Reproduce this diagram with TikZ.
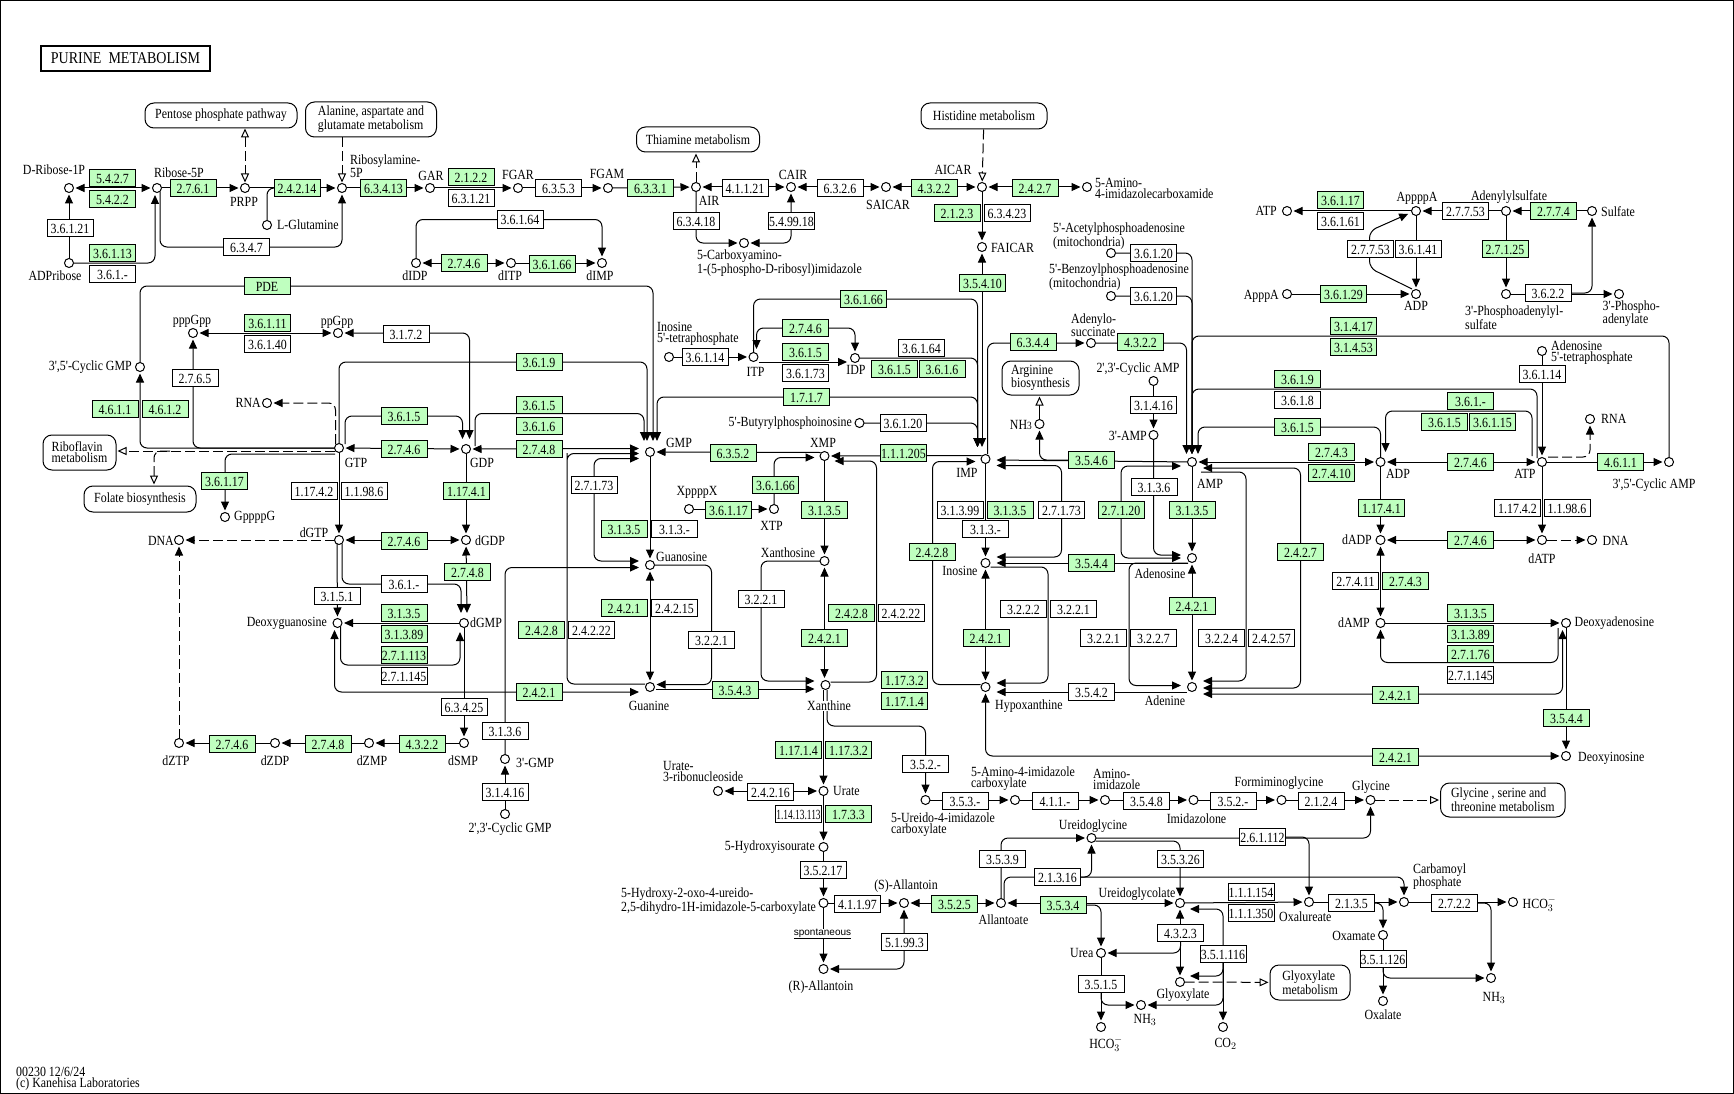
\documentclass[tikz,border=0pt]{standalone}
\usepackage{fontspec}
\setmainfont{Liberation Serif}[Ligatures=TeXOff, FakeStretch=0.85]
\setsansfont{Liberation Sans}
\usetikzlibrary{arrows.meta, calc}
\definecolor{enzgreen}{HTML}{BFFFBF}
\pgfdeclarelayer{lines}
\pgfsetlayers{lines,main}
\tikzset{
    cpd/.style={circle, draw, fill=white, line width=1pt, minimum size=9pt, inner sep=0pt, outer sep=0pt},
    enzw/.style={rectangle, draw, fill=white, line width=1pt, minimum width=46pt, minimum height=17pt, inner sep=0pt, outer sep=0pt, text height=11pt, text depth=0pt, font=\fontsize{14}{14}\selectfont},
    enzg/.style={enzw, fill=enzgreen},
    lbl/.style={inner sep=0pt, align=left, font=\fontsize{14}{11}\selectfont},
    mapbox/.style={rectangle, draw, fill=white, line width=1pt, rounded corners=9pt, inner sep=0pt, align=left, font=\fontsize{14}{11}\selectfont},
    rxn/.style={line width=1pt, rounded corners=7pt},
    fwd/.style={rxn, -{Triangle[length=9pt,width=8pt]}, shorten >=2pt},
    bi/.style={rxn, {Triangle[length=9pt,width=8pt]}-{Triangle[length=9pt,width=8pt]}, shorten >=2pt, shorten <=2pt},
    dsh/.style={dash pattern=on 10pt off 4pt},
    opn/.style={rxn, dsh, -{Triangle[open,fill=white,length=9pt,width=8pt]}, shorten >=1pt},
    dfwd/.style={fwd, dsh}
}
\begin{document}
\begin{tikzpicture}[x=1pt, y=-1pt]
    \useasboundingbox (0,0) rectangle (1734,1094);
    \draw [line width=1pt] (0.5,0.5) rectangle (1733.5,1093.5);

    \node (title) [rectangle, draw, line width=2pt, minimum width=169pt, minimum height=25pt, inner sep=0pt, font=\fontsize{16.5}{16}\selectfont] at (125.5,58.5) {PURINE~~METABOLISM};
    \node (pentose) [mapbox, minimum width=152pt, minimum height=25pt] at (221,115.5) {Pentose phosphate pathway};
    \node (alanine) [mapbox, minimum width=131pt, minimum height=35pt] at (371,119.5) {Alanine, aspartate and\\glutamate metabolism};
    \node (thiamine) [mapbox, minimum width=123pt, minimum height=25pt] at (698,139.5) {Thiamine metabolism};
    \node (histidine) [mapbox, minimum width=126pt, minimum height=26pt] at (984,116) {Histidine metabolism};
    \node (riboflavin) [mapbox, minimum width=73pt, minimum height=35pt] at (79.5,452.5) {Riboflavin\\metabolism};
    \node (folate) [mapbox, minimum width=112pt, minimum height=26pt] at (140,499) {Folate biosynthesis};
    \node (arginine) [mapbox, minimum width=77pt, minimum height=34pt] at (1040.5,378) {Arginine\\biosynthesis};
    \node (glyser) [mapbox, minimum width=124.5pt, minimum height=34pt] at (1502.8,800) {Glycine , serine and\\threonine metabolism};
    \node (glxmet) [mapbox, minimum width=80pt, minimum height=35pt] at (1310,982.5) {Glyoxylate\\metabolism};

    \node (DRib1P) [cpd] at (69,188) {};
    \node (Rib5P) [cpd] at (157,188) {};
    \node (PRPP) [cpd] at (245,188) {};
    \node (Ribam) [cpd] at (342,188) {};
    \node (GAR) [cpd] at (430,188) {};
    \node (FGAR) [cpd] at (518,188) {};
    \node (FGAM) [cpd] at (608,188) {};
    \node (AIR) [cpd] at (696,187) {};
    \node (CAIR) [cpd] at (791,187) {};
    \node (SAICAR) [cpd] at (886,187) {};
    \node (AICAR) [cpd] at (982,187) {};
    \node (AICAm) [cpd] at (1087,187) {};
    \node (LGln) [cpd] at (267,225) {};
    \node (ADPr) [cpd] at (69,263) {};
    \node (CxAIR) [cpd] at (744,243) {};
    \node (dIDP) [cpd] at (416,263) {};
    \node (dITP) [cpd] at (511,263) {};
    \node (dIMP) [cpd] at (602,263) {};
    \node (pppGpp) [cpd] at (193,333) {};
    \node (ppGpp) [cpd] at (338,333) {};
    \node (cGMP) [cpd] at (140,367) {};
    \node (RNAa) [cpd] at (267,403) {};
    \node (GTP) [cpd] at (339,448) {};
    \node (GDP) [cpd] at (466,449) {};
    \node (GMP) [cpd] at (650,452) {};
    \node (GppppG) [cpd] at (225,517) {};
    \node (dGTP) [cpd] at (339,540) {};
    \node (dGDP) [cpd] at (466,540) {};
    \node (DNAa) [cpd] at (179,540) {};
    \node (Dguo) [cpd] at (337.5,623) {};
    \node (dGMP) [cpd] at (464,623) {};
    \node (Guos) [cpd] at (650,565) {};
    \node (Gua) [cpd] at (650,687) {};
    \node (dZTP) [cpd] at (179,743) {};
    \node (dZDP) [cpd] at (275,743) {};
    \node (dZMP) [cpd] at (369,743) {};
    \node (dSMP) [cpd] at (464,743) {};
    \node (tGMP) [cpd] at (505,759) {};
    \node (ccGMP) [cpd] at (505,814) {};
    \node (XppppX) [cpd] at (689,509) {};
    \node (XTP) [cpd] at (774,509) {};
    \node (XMP) [cpd] at (824.5,456) {};
    \node (Xao) [cpd] at (824.5,561) {};
    \node (Xan) [cpd] at (825.5,685) {};
    \node (IMP) [cpd] at (985.5,459) {};
    \node (Ino) [cpd] at (985.5,563) {};
    \node (Hyp) [cpd] at (985.5,687) {};
    \node (AMP) [cpd] at (1192,462) {};
    \node (Ado) [cpd] at (1192,558) {};
    \node (Ade) [cpd] at (1192,687) {};
    \node (NHa) [cpd] at (1039.5,424) {};
    \node (ccAMP) [cpd] at (1153.5,381) {};
    \node (tAMP) [cpd] at (1153.5,435) {};
    \node (Adsucc) [cpd] at (1091,343) {};
    \node (AcPA) [cpd] at (1111,253) {};
    \node (BzPA) [cpd] at (1111,296) {};
    \node (FAICAR) [cpd] at (982,247) {};
    \node (ITet) [cpd] at (669,357) {};
    \node (ITP) [cpd] at (753.5,357) {};
    \node (IDP) [cpd] at (855,358) {};
    \node (BuPI) [cpd] at (859.5,423) {};
    \node (ATPa) [cpd] at (1287,211) {};
    \node (ApppA) [cpd] at (1287,294) {};
    \node (AppppA) [cpd] at (1416,211) {};
    \node (APS) [cpd] at (1506,211) {};
    \node (Sulf) [cpd] at (1592,211) {};
    \node (ADPa) [cpd] at (1416,294) {};
    \node (PAPS) [cpd] at (1506,294) {};
    \node (PAP) [cpd] at (1619,294) {};
    \node (ATet) [cpd] at (1542,351) {};
    \node (RNAb) [cpd] at (1590,419) {};
    \node (ADP) [cpd] at (1380.5,462) {};
    \node (ATP) [cpd] at (1542,462) {};
    \node (cAMP) [cpd] at (1669,462) {};
    \node (dADP) [cpd] at (1380.5,540) {};
    \node (dATP) [cpd] at (1542,540) {};
    \node (DNAb) [cpd] at (1592,540) {};
    \node (dAMP) [cpd] at (1380.5,623) {};
    \node (Dado) [cpd] at (1566,623) {};
    \node (Dino) [cpd] at (1566,756) {};
    \node (Gly) [cpd] at (1370.5,800) {};
    \node (Formgly) [cpd] at (1281.5,800) {};
    \node (Imzn) [cpd] at (1193.5,800) {};
    \node (AICx) [cpd] at (1015,800) {};
    \node (AmIm) [cpd] at (1105,800) {};
    \node (Ureido) [cpd] at (925.5,800) {};
    \node (Ugl) [cpd] at (1091.5,838) {};
    \node (Ugc) [cpd] at (1180,903) {};
    \node (Alln) [cpd] at (1001,903) {};
    \node (Oxur) [cpd] at (1309,902) {};
    \node (CbP) [cpd] at (1404,902) {};
    \node (HCOa) [cpd] at (1513,902) {};
    \node (Oxam) [cpd] at (1383,935) {};
    \node (Oxal) [cpd] at (1383,1001) {};
    \node (NHb) [cpd] at (1491,978) {};
    \node (Urea) [cpd] at (1101,953) {};
    \node (Glx) [cpd] at (1180,982) {};
    \node (NHc) [cpd] at (1141,1005) {};
    \node (HCOb) [cpd] at (1101,1027) {};
    \node (COtwo) [cpd] at (1223,1027) {};
    \node (Urate) [cpd] at (823.5,791) {};
    \node (URib) [cpd] at (718,791) {};
    \node (OHU) [cpd] at (823.5,847) {};
    \node (OHCU) [cpd] at (823.5,903) {};
    \node (SAlln) [cpd] at (904,903) {};
    \node (RAlln) [cpd] at (823.5,969) {};

    \node (lDRib1P) [lbl] at (54,170) {D-Ribose-1P};
    \node (lRib5P) [lbl] at (179,173) {Ribose-5P};
    \node (lPRPP) [lbl] at (244,202) {PRPP};
    \node (lRibam) [lbl, anchor=west] at (350,166.5) {Ribosylamine-\\5P};
    \node (lGAR) [lbl] at (431,176) {GAR};
    \node (lFGAR) [lbl] at (518,175) {FGAR};
    \node (lFGAM) [lbl] at (607,174) {FGAM};
    \node (lAIR) [lbl] at (709,201) {AIR};
    \node (lCAIR) [lbl] at (793,175) {CAIR};
    \node (lSAICAR) [lbl] at (888,205) {SAICAR};
    \node (lAICAR) [lbl] at (953,170) {AICAR};
    \node (lAICAm) [lbl, anchor=west] at (1095,188.5) {5-Amino-\\4-imidazolecarboxamide};
    \node (lLGln) [lbl, anchor=west] at (277,225) {L-Glutamine};
    \node (lADPr) [lbl] at (55,276) {ADPribose};
    \node (lCxAIR) [lbl, anchor=west] at (697,263.5) {5-Carboxyamino-\\1-(5-phospho-D-ribosyl)imidazole};
    \node (ldIDP) [lbl] at (415,276) {dIDP};
    \node (ldITP) [lbl] at (510,276) {dITP};
    \node (ldIMP) [lbl] at (600,276) {dIMP};
    \node (lpppGpp) [lbl] at (192,321) {pppGpp};
    \node (lppGpp) [lbl] at (337,322) {ppGpp};
    \node (lcGMP) [lbl, anchor=east] at (132,367) {3',5'-Cyclic GMP};
    \node (lRNAa) [lbl, anchor=east] at (261,403) {RNA};
    \node (lGTP) [lbl] at (356,463) {GTP};
    \node (lGDP) [lbl] at (482,463) {GDP};
    \node (lGMP) [lbl] at (679,443) {GMP};
    \node (lGppppG) [lbl, anchor=west] at (234,517) {GppppG};
    \node (ldGTP) [lbl] at (314,533) {dGTP};
    \node (ldGDP) [lbl, anchor=west] at (475,541) {dGDP};
    \node (lDNAa) [lbl, anchor=east] at (174,541) {DNA};
    \node (lDguo) [lbl, anchor=east] at (327,623) {Deoxyguanosine};
    \node (ldGMP) [lbl, anchor=west] at (470,623) {dGMP};
    \node (lGuos) [lbl, anchor=west] at (656,557) {Guanosine};
    \node (lGua) [lbl] at (649,706) {Guanine};
    \node (ldZTP) [lbl] at (176,761) {dZTP};
    \node (ldZDP) [lbl] at (275,761) {dZDP};
    \node (ldZMP) [lbl] at (372,761) {dZMP};
    \node (ldSMP) [lbl] at (463,761) {dSMP};
    \node (ltGMP) [lbl, anchor=west] at (516,763) {3'-GMP};
    \node (lccGMP) [lbl] at (510,829) {2',3'-Cyclic GMP};
    \node (lXppppX) [lbl] at (697,492) {XppppX};
    \node (lXTP) [lbl] at (771.5,526) {XTP};
    \node (lXMP) [lbl] at (823,443) {XMP};
    \node (lXao) [lbl] at (788,553) {Xanthosine};
    \node (lXan) [lbl, fill=white] at (829,706) {Xanthine};
    \node (lIMP) [lbl] at (967,473) {IMP};
    \node (lIno) [lbl] at (960,571) {Inosine};
    \node (lHyp) [lbl, anchor=west] at (995,706) {Hypoxanthine};
    \node (lAMP) [lbl] at (1210,484) {AMP};
    \node (lAdo) [lbl] at (1160,574) {Adenosine};
    \node (lAde) [lbl] at (1165,701) {Adenine};
    \node (lNHa) [lbl, anchor=east] at (1032,425) {NH{\fontsize{11}{11}\selectfont 3}};
    \node (lccAMP) [lbl] at (1138,369) {2',3'-Cyclic AMP};
    \node (ltAMP) [lbl, anchor=east] at (1147,436) {3'-AMP};
    \node (lAdsucc) [lbl, anchor=west] at (1071,325.5) {Adenylo-\\succinate};
    \node (lAcPA) [lbl, anchor=west] at (1053,236.5) {5'-Acetylphosphoadenosine\\(mitochondria)};
    \node (lBzPA) [lbl, anchor=west] at (1049,277.5) {5'-Benzoylphosphoadenosine\\(mitochondria)};
    \node (lFAICAR) [lbl, anchor=west] at (991,248) {FAICAR};
    \node (lITet) [lbl, anchor=west] at (657,333.5) {Inosine\\5'-tetraphosphate};
    \node (lITP) [lbl] at (755.5,372) {ITP};
    \node (lIDP) [lbl] at (856,370) {IDP};
    \node (lBuPI) [lbl, anchor=east] at (852,423) {5'-Butyrylphosphoinosine};
    \node (lATPa) [lbl, anchor=east] at (1277,211) {ATP};
    \node (lApppA) [lbl, anchor=east] at (1279,296) {ApppA};
    \node (lAppppA) [lbl] at (1417,198) {AppppA};
    \node (lAPS) [lbl] at (1509,197) {Adenylylsulfate};
    \node (lSulf) [lbl, anchor=west] at (1601,212) {Sulfate};
    \node (lADPa) [lbl] at (1416,306) {ADP};
    \node (lPAPS) [lbl, anchor=west] at (1465,317.5) {3'-Phosphoadenylyl-\\sulfate};
    \node (lPAP) [lbl, anchor=west] at (1602.5,313.5) {3'-Phospho-\\adenylate};
    \node (lATet) [lbl, anchor=west] at (1551,352.5) {Adenosine\\5'-tetraphosphate};
    \node (lRNAb) [lbl, anchor=west] at (1601,419) {RNA};
    \node (lADP) [lbl] at (1398,474) {ADP};
    \node (lATP) [lbl] at (1525,474) {ATP};
    \node (lcAMP) [lbl] at (1654,485) {3',5'-Cyclic AMP};
    \node (ldADP) [lbl, anchor=east] at (1372,540) {dADP};
    \node (ldATP) [lbl] at (1542,559) {dATP};
    \node (lDNAb) [lbl, anchor=west] at (1602.5,541) {DNA};
    \node (ldAMP) [lbl, anchor=east] at (1370,623) {dAMP};
    \node (lDado) [lbl, anchor=west] at (1574.5,623) {Deoxyadenosine};
    \node (lDino) [lbl, anchor=west] at (1578,758) {Deoxyinosine};
    \node (lGly) [lbl] at (1371,787) {Glycine};
    \node (lFormgly) [lbl] at (1279,783) {Formiminoglycine};
    \node (lImzn) [lbl] at (1196.5,819) {Imidazolone};
    \node (lAICx) [lbl, anchor=west] at (971,778.5) {5-Amino-4-imidazole\\carboxylate};
    \node (lAmIm) [lbl, anchor=west] at (1093,779.5) {Amino-\\imidazole};
    \node (lUreido) [lbl, anchor=west] at (891,824.5) {5-Ureido-4-imidazole\\carboxylate};
    \node (lUgl) [lbl] at (1093,826) {Ureidoglycine};
    \node (lUgc) [lbl] at (1137,894) {Ureidoglycolate};
    \node (lAlln) [lbl] at (1003.5,920) {Allantoate};
    \node (lOxur) [lbl, anchor=west] at (1279,917) {Oxalureate};
    \node (lCbP) [lbl, anchor=west] at (1413,876.5) {Carbamoyl\\phosphate};
    \node (lHCOa) [lbl, anchor=west] at (1522.5,904) {HCO$_3^-$};
    \node (lOxam) [lbl, anchor=east] at (1375.5,936) {Oxamate};
    \node (lOxal) [lbl] at (1383,1015) {Oxalate};
    \node (lNHb) [lbl] at (1494,998) {NH$_3$};
    \node (lUrea) [lbl, anchor=east] at (1093.5,953) {Urea};
    \node (lGlx) [lbl] at (1183,995) {Glyoxylate};
    \node (lNHc) [lbl] at (1145,1020) {NH$_3$};
    \node (lHCOb) [lbl] at (1106,1044) {HCO$_3^-$};
    \node (lCOtwo) [lbl] at (1225.5,1044) {CO$_2$};
    \node (lUrate) [lbl, anchor=west] at (833,791) {Urate};
    \node (lURib) [lbl, anchor=west] at (663,771.5) {Urate-\\3-ribonucleoside};
    \node (lOHU) [lbl, anchor=east] at (815,847) {5-Hydroxyisourate};
    \node (lOHCU) [lbl, anchor=west] at (621,901.5) {5-Hydroxy-2-oxo-4-ureido-\\2,5-dihydro-1H-imidazole-5-carboxylate};
    \node (lSAlln) [lbl] at (906,886) {(S)-Allantoin};
    \node (lRAlln) [lbl] at (821,987) {(R)-Allantoin};
    \node (spont) [lbl, fill=white, font=\sffamily\fontsize{10}{10}\selectfont] at (822.5,934) {\underline{spontaneous}};
    \node (lver) [lbl, anchor=west] at (16,1079) {00230 12/6/24\\(c) Kanehisa Laboratories};

    \node (e5427) [enzg] at (112.5,178) {5.4.2.7};
    \node (e5422) [enzg] at (112.5,199) {5.4.2.2};
    \node (e2761) [enzg] at (193,188) {2.7.6.1};
    \node (e24214) [enzg] at (297,188) {2.4.2.14};
    \node (e63413) [enzg] at (383.5,188) {6.3.4.13};
    \node (e2122) [enzg] at (471,177) {2.1.2.2};
    \node (e63121) [enzw] at (471,198) {6.3.1.21};
    \node (e6353) [enzw] at (558.5,188) {6.3.5.3};
    \node (e6331) [enzg] at (650.5,188) {6.3.3.1};
    \node (e36121) [enzw] at (70,228) {3.6.1.21};
    \node (e36113) [enzg] at (112.5,253) {3.6.1.13};
    \node (e361x) [enzw] at (112.5,274) {3.6.1.-};
    \node (e6347) [enzw] at (246.5,247) {6.3.4.7};
    \node (e36164a) [enzw] at (520,219.5) {3.6.1.64};
    \node (e2746a) [enzg] at (464,263) {2.7.4.6};
    \node (e36166a) [enzg] at (552,264) {3.6.1.66};
    \node (ePDE) [enzg] at (267,286) {PDE};
    \node (e36111) [enzg] at (267.5,323) {3.6.1.11};
    \node (e36140) [enzw] at (267.5,344) {3.6.1.40};
    \node (e3172) [enzw] at (406,334) {3.1.7.2};
    \node (e3619a) [enzg] at (539,362) {3.6.1.9};
    \node (e2765) [enzw] at (195,378) {2.7.6.5};
    \node (e4611a) [enzg] at (115,409) {4.6.1.1};
    \node (e4612) [enzg] at (165,409) {4.6.1.2};
    \node (e3615a) [enzg] at (404,416) {3.6.1.5};
    \node (e3615b) [enzg] at (539,405) {3.6.1.5};
    \node (e3616a) [enzg] at (539,426) {3.6.1.6};
    \node (e2746b) [enzg] at (404,449) {2.7.4.6};
    \node (e2748a) [enzg] at (539,449) {2.7.4.8};
    \node (e36117a) [enzg] at (224.5,481) {3.6.1.17};
    \node (e11742a) [enzw] at (314,491) {1.17.4.2};
    \node (e11986a) [enzw] at (364,491) {1.1.98.6};
    \node (e11741a) [enzg] at (466.5,491) {1.17.4.1};
    \node (e27173a) [enzw] at (594,485) {2.7.1.73};
    \node (e3135a) [enzg] at (624,529) {3.1.3.5};
    \node (e313xa) [enzw] at (674.5,529) {3.1.3.-};
    \node (e2746c) [enzg] at (404,540.5) {2.7.4.6};
    \node (e2748b) [enzg] at (467.5,572) {2.7.4.8};
    \node (e361xb) [enzw] at (404,584) {3.6.1.-};
    \node (e3151) [enzw] at (337,596) {3.1.5.1};
    \node (e3135b) [enzg] at (404,613) {3.1.3.5};
    \node (e31389a) [enzg] at (404,634) {3.1.3.89};
    \node (e271113) [enzg] at (404,655) {2.7.1.113};
    \node (e271145a) [enzw] at (404,676) {2.7.1.145};
    \node (e2421a) [enzg] at (624,608) {2.4.2.1};
    \node (e24215) [enzw] at (674.5,608) {2.4.2.15};
    \node (e2428a) [enzg] at (541.5,630) {2.4.2.8};
    \node (e24222a) [enzw] at (591.5,630) {2.4.2.22};
    \node (e3221a) [enzw] at (711.5,640) {3.2.2.1};
    \node (e2421b) [enzg] at (539,692) {2.4.2.1};
    \node (e63425) [enzw] at (464,707) {6.3.4.25};
    \node (e3136a) [enzw] at (505,731) {3.1.3.6};
    \node (e31416a) [enzw] at (505,792) {3.1.4.16};
    \node (e2746d) [enzg] at (232,744) {2.7.4.6};
    \node (e2748c) [enzg] at (328,744) {2.7.4.8};
    \node (e4322a) [enzg] at (422,744) {4.3.2.2};
    \node (e41121) [enzw] at (745,188) {4.1.1.21};
    \node (e63418) [enzw] at (696,221) {6.3.4.18};
    \node (e54918) [enzw] at (791.5,221) {5.4.99.18};
    \node (e6326) [enzw] at (840,188) {6.3.2.6};
    \node (e4322b) [enzg] at (934,188) {4.3.2.2};
    \node (e2427a) [enzg] at (1035,188) {2.4.2.7};
    \node (e2123) [enzg] at (957,213) {2.1.2.3};
    \node (e63423) [enzw] at (1007,213) {6.3.4.23};
    \node (e36120a) [enzw] at (1153.5,253) {3.6.1.20};
    \node (e36120b) [enzw] at (1153.5,296) {3.6.1.20};
    \node (e35410) [enzg] at (982.5,283) {3.5.4.10};
    \node (e36166b) [enzg] at (863.5,299) {3.6.1.66};
    \node (e2746e) [enzg] at (805.5,328) {2.7.4.6};
    \node (e3615c) [enzg] at (805.5,352) {3.6.1.5};
    \node (e36173) [enzw] at (805.5,373) {3.6.1.73};
    \node (e36114a) [enzw] at (705,357) {3.6.1.14};
    \node (e36164b) [enzw] at (921.5,348) {3.6.1.64};
    \node (e3615d) [enzg] at (894.5,369) {3.6.1.5};
    \node (e3616b) [enzg] at (942,369) {3.6.1.6};
    \node (e6344) [enzg] at (1033,342) {6.3.4.4};
    \node (e4322c) [enzg] at (1140.5,342) {4.3.2.2};
    \node (e31416b) [enzw] at (1153.5,405) {3.1.4.16};
    \node (e1717) [enzg] at (806.5,397) {1.7.1.7};
    \node (e36120c) [enzw] at (903,423) {3.6.1.20};
    \node (e6352) [enzg] at (733,453) {6.3.5.2};
    \node (e111205) [enzg] at (903.5,453) {1.1.1.205};
    \node (e3546) [enzg] at (1091.5,460) {3.5.4.6};
    \node (e36166c) [enzg] at (775.5,485) {3.6.1.66};
    \node (e36117b) [enzg] at (728.5,510) {3.6.1.17};
    \node (e3135c) [enzg] at (824.5,510) {3.1.3.5};
    \node (e31399) [enzw] at (960,510) {3.1.3.99};
    \node (e3135d) [enzg] at (1010,510) {3.1.3.5};
    \node (e27173b) [enzw] at (1061.5,510) {2.7.1.73};
    \node (e313xb) [enzw] at (985.5,529) {3.1.3.-};
    \node (e27120) [enzg] at (1121,510) {2.7.1.20};
    \node (e3136b) [enzw] at (1154,487) {3.1.3.6};
    \node (e3135e) [enzg] at (1192,510) {3.1.3.5};
    \node (e2428b) [enzg] at (932,552) {2.4.2.8};
    \node (e3544a) [enzg] at (1091.5,563) {3.5.4.4};
    \node (e3221b) [enzw] at (761,599) {3.2.2.1};
    \node (e2428c) [enzg] at (851.5,613) {2.4.2.8};
    \node (e24222b) [enzw] at (901,613) {2.4.2.22};
    \node (e3222) [enzw] at (1023.5,609) {3.2.2.2};
    \node (e3221c) [enzw] at (1073.5,609) {3.2.2.1};
    \node (e2421c) [enzg] at (824.5,638) {2.4.2.1};
    \node (e2421d) [enzg] at (986,638) {2.4.2.1};
    \node (e3221d) [enzw] at (1103.5,638) {3.2.2.1};
    \node (e3227) [enzw] at (1153.5,638) {3.2.2.7};
    \node (e2421e) [enzg] at (1192,606) {2.4.2.1};
    \node (e3224) [enzw] at (1221.5,638) {3.2.2.4};
    \node (e24257) [enzw] at (1271.5,638) {2.4.2.57};
    \node (e2427b) [enzg] at (1300.5,552) {2.4.2.7};
    \node (e3543) [enzg] at (735,690) {3.5.4.3};
    \node (e11732a) [enzg] at (904.5,680) {1.17.3.2};
    \node (e11714a) [enzg] at (904.5,701) {1.17.1.4};
    \node (e3542) [enzw] at (1091.5,692) {3.5.4.2};
    \node (e11714b) [enzg] at (798.5,750) {1.17.1.4};
    \node (e11732b) [enzg] at (848.5,750) {1.17.3.2};
    \node (e352xa) [enzw] at (925.5,764) {3.5.2.-};
    \node (e36117c) [enzg] at (1340.5,200) {3.6.1.17};
    \node (e36161) [enzw] at (1340.5,221) {3.6.1.61};
    \node (e27753a) [enzw] at (1465.5,211) {2.7.7.53};
    \node (e2774) [enzg] at (1553.5,211) {2.7.7.4};
    \node (e27753b) [enzw] at (1370.5,249) {2.7.7.53};
    \node (e36141) [enzw] at (1418,249) {3.6.1.41};
    \node (e27125) [enzg] at (1505,249) {2.7.1.25};
    \node (e36129) [enzg] at (1343.5,294) {3.6.1.29};
    \node (e3622) [enzw] at (1548,293) {3.6.2.2};
    \node (e31417) [enzg] at (1353.5,326) {3.1.4.17};
    \node (e31453) [enzg] at (1353.5,347) {3.1.4.53};
    \node (e36114b) [enzw] at (1542,374) {3.6.1.14};
    \node (e3619b) [enzg] at (1297.5,379) {3.6.1.9};
    \node (e3618) [enzw] at (1297.5,400) {3.6.1.8};
    \node (e361xc) [enzg] at (1470.5,401) {3.6.1.-};
    \node (e3615e) [enzg] at (1444.5,422) {3.6.1.5};
    \node (e36115) [enzg] at (1492.5,422) {3.6.1.15};
    \node (e3615f) [enzg] at (1297.5,427) {3.6.1.5};
    \node (e2743a) [enzg] at (1331.5,452) {2.7.4.3};
    \node (e27410) [enzg] at (1331.5,473) {2.7.4.10};
    \node (e2746f) [enzg] at (1470.5,462) {2.7.4.6};
    \node (e4611b) [enzg] at (1620.5,462) {4.6.1.1};
    \node (e11741b) [enzg] at (1381.5,508) {1.17.4.1};
    \node (e11742b) [enzw] at (1517.5,508) {1.17.4.2};
    \node (e11986b) [enzw] at (1567,508) {1.1.98.6};
    \node (e2746g) [enzg] at (1470.5,540) {2.7.4.6};
    \node (e27411) [enzw] at (1355.5,581) {2.7.4.11};
    \node (e2743b) [enzg] at (1405.5,581) {2.7.4.3};
    \node (e3135f) [enzg] at (1470.5,613) {3.1.3.5};
    \node (e31389b) [enzg] at (1470.5,634) {3.1.3.89};
    \node (e27176) [enzg] at (1470.5,654) {2.7.1.76};
    \node (e271145b) [enzw] at (1470.5,675) {2.7.1.145};
    \node (e2421f) [enzg] at (1395.5,695) {2.4.2.1};
    \node (e3544b) [enzg] at (1566.5,718) {3.5.4.4};
    \node (e2421g) [enzg] at (1395.5,757) {2.4.2.1};
    \node (e2124) [enzw] at (1321,801) {2.1.2.4};
    \node (e352xb) [enzw] at (1233,801) {3.5.2.-};
    \node (e3548) [enzw] at (1146.5,801) {3.5.4.8};
    \node (e411x) [enzw] at (1055,801) {4.1.1.-};
    \node (e353x) [enzw] at (965,801) {3.5.3.-};
    \node (e24216) [enzw] at (770.5,792) {2.4.2.16};
    \node (e11413113) [enzw] at (798.5,814) {\scalebox{0.79}[1]{1.14.13.113}};
    \node (e1733) [enzg] at (848.5,814) {1.7.3.3};
    \node (e35217) [enzw] at (823,870) {3.5.2.17};
    \node (e41197) [enzw] at (857.5,904) {4.1.1.97};
    \node (e3525) [enzg] at (954.5,904) {3.5.2.5};
    \node (e51993) [enzw] at (904.5,942) {5.1.99.3};
    \node (e3539) [enzw] at (1002.5,859) {3.5.3.9};
    \node (e21316) [enzw] at (1057.5,877) {2.1.3.16};
    \node (e3534) [enzg] at (1063,905) {3.5.3.4};
    \node (e35326) [enzw] at (1180.5,859) {3.5.3.26};
    \node (e261112) [enzw] at (1262.5,837) {2.6.1.112};
    \node (e111154) [enzw] at (1251,892) {1.1.1.154};
    \node (e111350) [enzw] at (1251,913) {1.1.1.350};
    \node (e2135) [enzw] at (1351.5,903) {2.1.3.5};
    \node (e2722) [enzw] at (1454.5,903) {2.7.2.2};
    \node (e4323) [enzw] at (1180.5,933) {4.3.2.3};
    \node (e351116) [enzw] at (1223,954) {3.5.1.116};
    \node (e351126) [enzw] at (1383,959) {3.5.1.126};
    \node (e3515) [enzw] at (1101,984) {3.5.1.5};

    \coordinate (folj) at (170,451);

    \begin{pgfonlayer}{lines}
    \draw [bi] (DRib1P) -- (Rib5P);
    \draw [fwd] (ADPr) -- (DRib1P);
    \draw [fwd] (ADPr) -| ($(Rib5P)+(-2,5)$);
    \draw [fwd] (Rib5P) -- (PRPP);
    \draw [fwd] (PRPP) -- (Ribam);
    \draw [rxn] (LGln) |- (e24214);
    \draw [fwd] ($(Rib5P)+(3,4)$) |- (e6347.center) -| (Ribam);
    \draw [fwd] (Ribam) -- (GAR);
    \draw [fwd] (GAR) -- (FGAR);
    \draw [fwd] (FGAR) -- (FGAM);
    \draw [fwd] (FGAM) -- (AIR);
    \draw [bi] (AIR) -- (CAIR);
    \draw [bi] (CAIR) -- (SAICAR);
    \draw [bi] (SAICAR) -- (AICAR);
    \draw [bi] (AICAR) -- (AICAm);
    \draw [fwd] (AICAR) -- (FAICAR);
    \draw [bi] (FAICAR) -- ($(IMP)+(-3.5,-10)$);
    \draw [fwd] (AIR) |- (CxAIR);
    \draw [bi] (CxAIR) -| (CAIR);
    \draw [opn] (AIR) -- (thiamine.south -| AIR);
    \draw [opn] (histidine) -- (AICAR);
    \draw [opn, {Triangle[open,fill=white,length=9pt,width=8pt]}-{Triangle[open,fill=white,length=9pt,width=8pt]}] (pentose.south -| PRPP) -- (PRPP);
    \draw [opn] (alanine.south -| Ribam) -- (Ribam);

    \draw [fwd] (dIDP) |- (e36164a.center) -| (dIMP);
    \draw [bi] (dIDP) -- (dITP);
    \draw [fwd] (dITP) -- (dIMP);

    \draw [fwd] (cGMP) |- (ePDE.center) -| ($(GMP)+(3,-9)$);
    \draw [bi] (pppGpp) -- (ppGpp);
    \draw [bi] (ppGpp) -| ($(GDP)+(3.5,-8)$);
    \draw [fwd] (GTP) |- (e3619a.center) -| ($(GMP)+(-3,-9)$);
    \draw [fwd] ($(GTP)+(6,-4)$) |- (e3615a.center) -| ($(GDP)+(-3.5,-8)$);
    \draw [fwd] ($(GDP)+(9,-3)$) |- (e3615b.south) -| ($(GMP)+(-6,-9)$);
    \draw [fwd, dsh] ($(GTP)+(-3.5,-4)$) |- (RNAa);
    \draw [fwd] (GTP) -| (cGMP);
    \draw [fwd] (GTP) -| (pppGpp);
    \draw [opn] ($(GTP)+(-4,3)$) -- ($(riboflavin.east)+(0,-1.5)$);
    \draw [opn] (folj) -| ($(folate.north)+(14,0)$);
    \draw [fwd] ($(GTP)+(-4,6)$) -| (GppppG);
    \draw [bi] (GTP) -- (GDP);
    \draw [bi] (GDP) -- ($(GMP)+(-9,-3.5)$);
    \draw [fwd] ($(Gua)+(-5,-3)$) -| (567,460) |- ($(GMP)+(-9,1.5)$);
    \draw [bi] ($(GMP)+(-9,6.5)$) -| (e27173a.center) |- ($(Guos)+(-9,-4)$);
    \draw [fwd] (tGMP) |- ($(Guos)+(-9,2.5)$);
    \draw [fwd] ($(XMP)+(-4,-3.5)$) -- (GMP);
    \draw [fwd] (GMP) -- (Guos);
    \draw [bi] (Guos) -- (Gua);
    \draw [fwd] (Guos) -| (e3221a.center) |- ($(Gua)+(4.5,-2.5)$);
    \draw [fwd] ($(Gua)+(6,2)$) -- ($(Xan)+(-9,4)$);

    \draw [fwd] (GTP) -- (dGTP);
    \draw [fwd] (GDP) -- (dGDP);
    \draw [bi] (dGTP) -- (dGDP);
    \draw [fwd, dsh] (dGTP) -- (DNAa);
    \draw [bi] (dGDP) -- ($(dGMP)+(3,-8)$);
    \draw [fwd] ($(dGTP)+(3,4)$) |- (e361xb.center) -| ($(dGMP)+(-3,-8)$);
    \draw [fwd] ($(dGTP)+(-2,4)$) -- (Dguo);
    \draw [fwd] (dGMP) -- (Dguo);
    \draw [fwd] ($(Dguo)+(3,4)$) |- (404,665) -| ($(dGMP)+(-4,7)$);
    \draw [fwd] (dGMP) -- (dSMP);
    \draw [fwd] (dSMP) -- (dZMP);
    \draw [fwd] (dZMP) -- (dZDP);
    \draw [fwd] (dZDP) -- (dZTP);
    \draw [fwd, dsh] (dZTP) -- (DNAa);
    \draw [bi] ($(Dguo)+(-3,5)$) |- (e2421b.center) -- ($(Gua)+(-9,5)$);
    \draw [fwd] (ccGMP) -- (tGMP);

    \draw [fwd] (XppppX) -- (XTP);
    \draw [fwd] (XTP) |- ($(XMP)+(-8,1.5)$);
    \draw [fwd] (XMP) -- (Xao);
    \draw [bi] (Xao) -- ($(Xan)+(-1,-5)$);
    \draw [fwd] (Xao) -| (e3221b.center) |- ($(Xan)+(-9,-4)$);
    \draw [fwd] ($(Xan)+(5,-3)$) -- (876.5,682) -- (876.5,461) -- ($(XMP)+(8,5)$);
    \draw [fwd] ($(IMP)+(-4,-3.5)$) -- (XMP);
    \draw [fwd] ($(Hyp)+(-5,-2.5)$) -| (932.5,500) |- ($(IMP)+(-8,2.5)$);
    \draw [fwd] (IMP) -- (Ino);
    \draw [bi] (Ino) -- (Hyp);
    \draw [fwd] ($(Ino)+(5,4)$) -| (1048,640) |- ($(Hyp)+(9,-4)$);
    \draw [fwd] ($(Ade)+(-5,5)$) -- ($(Hyp)+(9,5)$);
    \draw [fwd] ($(Ado)+(-4,5)$) -| (1129,640) |- ($(Ade)+(-9,-1.5)$);
    \draw [fwd] ($(Ado)+(-4,5)$) -- ($(Ino)+(9,0)$);
    \draw [bi] ($(IMP)+(9,6.5)$) -| (e27173b.center) |- ($(Ino)+(9,-6)$);
    \draw [fwd] (AMP) -- ($(IMP)+(9,1)$);
    \draw [fwd] (e3546) -| (NHa);
    \draw [rxn, -{Triangle[open,fill=white,length=9pt,width=8pt]}, shorten >=1pt] (NHa) -- (arginine.south -| NHa);
    \draw [fwd] ($(IMP)+(2,-5)$) |- (Adsucc);
    \draw [fwd] (Adsucc) -| ($(AMP)+(-5.5,-6)$);

    \draw [fwd] (ITet) -- (ITP);
    \draw [fwd] (ITP) |- (e36166b.center) -| ($(IMP)+(-8,-10)$);
    \draw [bi] ($(ITP)+(3,-6)$) |- (e2746e.center) -| (IDP);
    \draw [fwd] ($(ITP)+(5,5)$) -- ($(IDP)+(-6,4)$);
    \draw [fwd] (IDP) -| ($(IMP)+(-8,-10)$);
    \draw [bi] ($(GMP)+(7,-9)$) |- (e1717.center) -| ($(IMP)+(-8,-10)$);
    \draw [fwd] (BuPI) -| ($(IMP)+(-8,-10)$);

    \draw [fwd] (AcPA) -| ($(AMP)+(0,-6)$);
    \draw [fwd] (BzPA) -| ($(AMP)+(0,-6)$);
    \draw [fwd] (cAMP) |- (1353,336) -| ($(AMP)+(0,-6)$);
    \draw [fwd] ($(ATP)+(-5,-4)$) |- (1297,389) -| ($(AMP)+(0,-6)$);
    \draw [fwd] ($(ATP)+(-10,-6)$) |- (1470,411) -| ($(ADP)+(5,-8)$);
    \draw [fwd] (ADP) |- (e3615f.center) -| ($(AMP)+(6,-6)$);
    \draw [bi] (AMP) -- (ADP);
    \draw [bi] (ADP) -- (ATP);
    \draw [fwd] (ATet) -- (ATP);
    \draw [fwd] (ATP) -- (dATP);
    \draw [fwd] (ATP) -- (cAMP);
    \draw [fwd, dsh] ($(ATP)+(6,-5)$) -| (RNAb);
    \draw [fwd] (ADP) -- (dADP);
    \draw [bi] (dADP) -- (dATP);
    \draw [fwd, dsh] (dATP) -- (DNAb);
    \draw [bi] (dADP) -- (dAMP);
    \draw [fwd] (dAMP) -- (Dado);
    \draw [fwd] ($(Dado)+(-8,5)$) |- (e27176.south) -| (dAMP);
    \draw [bi] ($(Dado)+(-3.5,5)$) |- (1395,694) -- ($(Ade)+(9,7)$);
    \draw [fwd] (Dado) -- (Dino);
    \draw [bi] (Hyp) |- (Dino);
    \draw [fwd] ($(AMP)+(9,10)$) -- (1246,472) -- (1246,681) -- ($(Ade)+(9,-6)$);
    \draw [bi] ($(AMP)+(9,6)$) -| (e2427b.center) |- ($(Ade)+(9,1)$);
    \draw [fwd] (AMP) -- (Ado);
    \draw [bi] (Ado) -- (Ade);
    \draw [bi] ($(AMP)+(-9,4)$) -| (e27120.center) |- ($(Ado)+(-9,0)$);
    \draw [fwd] (tAMP) |- ($(Ado)+(-9,-3)$);
    \draw [fwd] (ccAMP) -- (tAMP);

    \draw [fwd] ($(Xan)+(-2,5)$) -- (Urate);
    \draw [fwd] ($(Xan)+(1.5,5)$) |- (880,726) -| (Ureido);
    \draw [bi] (Urate) -- (URib);
    \draw [fwd] (Urate) -- (OHU);
    \draw [fwd] (OHU) -- (OHCU);
    \draw [fwd] (OHCU) -- (SAlln);
    \draw [fwd] (OHCU) -- (RAlln);
    \draw [bi] (SAlln) |- (RAlln);
    \draw [bi] (SAlln) -- (Alln);
    \draw [bi] (Alln) -- (Ugc);
    \draw [fwd] (e3534) -| (Urea);
    \draw [fwd] (Urea) -- (HCOb);
    \draw [fwd] (e3515) |- (NHc);
    \draw [fwd] (e351116) |- (NHc);
    \draw [fwd] (e351116) -- (COtwo);
    \draw [fwd] (e351116) |- ($(Glx)+(8,-6)$);
    \draw [fwd] (e351116) |- ($(Ugc)+(8,6)$);
    \draw [bi] (Ugc) -- (Glx);
    \draw [fwd] (e4323) |- (Urea);
    \draw [opn] (Glx) -- (glxmet);
    \draw [fwd] (Alln) |- (Ugl);
    \draw [fwd] ($(Alln)+(3,-4)$) |- (e21316.center) -| (CbP);
    \draw [fwd] (e21316) -| (Ugl);
    \draw [fwd] ($(Ugl)+(4,3)$) -| (Ugc);
    \draw [fwd] (Ugl) -| (Gly);
    \draw [fwd] (e261112) -| (Oxur);
    \draw [fwd] (Ugc) -- (Oxur);
    \draw [fwd] (Oxur) -- (CbP);
    \draw [fwd] (e2135) -| (Oxam);
    \draw [fwd] (Oxam) -- (Oxal);
    \draw [fwd] (e351126) |- (NHb);
    \draw [fwd] (CbP) -- (HCOa);
    \draw [fwd] (e2722) -| (NHb);
    \draw [fwd] (Ureido) -- (AICx);
    \draw [fwd] (AICx) -- (AmIm);
    \draw [fwd] (AmIm) -- (Imzn);
    \draw [fwd] (Imzn) -- (Formgly);
    \draw [fwd] (Formgly) -- (Gly);
    \draw [opn] (Gly) -- (glyser);

    \draw [fwd] (AppppA) -- (ATPa);
    \draw [fwd] (APS) -- (AppppA);
    \draw [fwd] (Sulf) -- (APS);
    \draw [fwd] (e3622) -| (Sulf);
    \draw [fwd] (PAPS) -- (PAP);
    \draw [fwd] (APS) -- (PAPS);
    \draw [fwd] (ApppA) -- (ADPa);
    \draw [fwd] (AppppA) -- (ADPa);
    \draw [fwd] ($(ADPa)+(-4,-5)$) -- (1369.5,268) -- (1369.5,231) -- ($(AppppA)+(-6,2)$);
    \end{pgfonlayer}
\end{tikzpicture}
\end{document}
